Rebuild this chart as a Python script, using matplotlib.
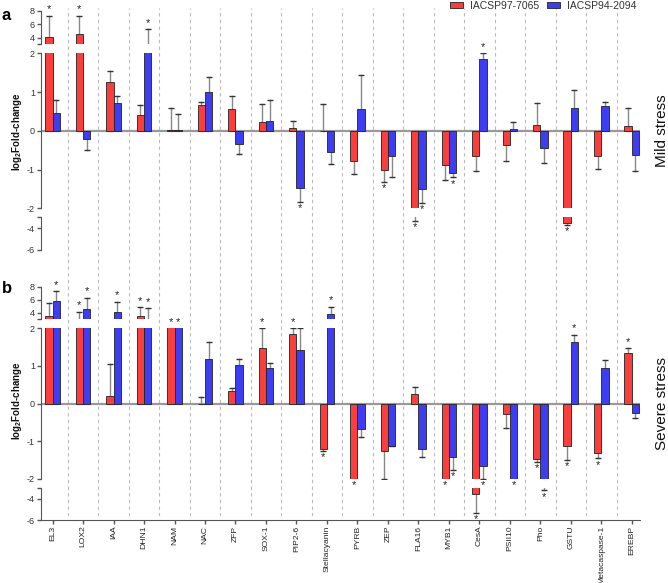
import numpy as np
import matplotlib
matplotlib.use('Agg')
import matplotlib.pyplot as plt
from matplotlib.patches import Patch

plt.rcParams['font.family'] = ['Liberation Sans', 'DejaVu Sans']
plt.rcParams['mathtext.default'] = 'regular'

genes = ['EL3', 'LOX2', 'IAA', 'DHN1', 'NAM', 'NAC', 'ZFP', 'SOX-1', 'PIP2-6',
         'Stellacyanin', 'PYRB', 'ZEP', 'FLA16', 'MYB1', 'CesA', 'PSII10', 'Pho',
         'GSTU', 'Metacaspase-1', 'EREBP']
cultivars = ['IACSP97-7065', 'IACSP94-2094']

# mild stress (panel a), log2 fold-change and error
mild_r = [4.15, 4.6, 1.25, 0.42, 0.01, 0.66, 0.56, 0.24, 0.06, 0.0,
          -0.79, -1.02, -2.6, -0.89, -0.64, -0.36, 0.15, -3.5, -0.65, 0.12]
mild_r_err = [3.15, 2.7, 0.3, 0.24, 0.57, 0.08, 0.35, 0.45, 0.2, 0.68,
              0.33, 0.29, 0.7, 0.37, 0.39, 0.42, 0.56, 0.2, 0.34, 0.46]
mild_b = [0.45, -0.21, 0.71, 2.5, 0.02, 0.99, -0.33, 0.25, -1.47, -0.55,
          0.57, -0.64, -1.49, -1.09, 1.86, 0.05, -0.45, 0.58, 0.63, -0.63]
mild_b_err = [0.34, 0.29, 0.2, 2.75, 0.42, 0.39, 0.26, 0.55, 0.37, 0.31,
              0.87, 0.55, 0.37, 0.11, 0.14, 0.19, 0.37, 0.48, 0.11, 0.4]
mild_r_sig = ['EL3', 'LOX2', 'ZEP', 'FLA16', 'GSTU']
mild_b_sig = ['DHN1', 'PIP2-6', 'FLA16', 'MYB1', 'CesA']

# severe stress (panel b)
sev_r = [3.49, 2.6, 0.21, 3.4, 2.5, 0.0, 0.34, 1.47, 1.83, -1.2,
         -2.0, -1.26, 0.24, -2.0, -3.5, -0.29, -1.47, -1.13, -1.31, 1.35]
sev_r_err = [2.0, 1.5, 0.83, 1.4, 0.1, 0.17, 0.07, 0.53, 0.17, 0.05,
             0.0, 0.74, 0.21, 0.0, 1.85, 0.37, 0.07, 0.37, 0.14, 0.12]
sev_b = [5.85, 4.5, 4.05, 2.6, 2.5, 1.18, 1.02, 0.93, 1.42, 3.75,
         -0.67, -1.12, -1.21, -1.42, -1.66, -2.0, -2.6, 1.63, 0.94, -0.24]
sev_b_err = [1.45, 1.8, 1.65, 2.1, 0.1, 0.45, 0.16, 0.14, 0.58, 1.15,
             0.22, 0.01, 0.2, 0.34, 0.34, 0.0, 0.6, 0.19, 0.2, 0.14]
sev_r_sig = ['LOX2', 'DHN1', 'NAM', 'SOX-1', 'PIP2-6', 'Stellacyanin', 'PYRB',
             'MYB1', 'CesA', 'Pho', 'GSTU', 'Metacaspase-1', 'EREBP']
sev_b_sig = ['EL3', 'LOX2', 'IAA', 'DHN1', 'NAM', 'Stellacyanin', 'MYB1',
             'CesA', 'PSII10', 'Pho', 'GSTU']

red = '#fa3e3e'
blue = '#3d3df2'
spine_col = '#555555'

W, H = 668, 583
fig = plt.figure(figsize=(W / 100, H / 100), dpi=100)

x = np.arange(len(genes))
bw = 0.24
xlim = (-0.37, 19.27)
left = 41.3 / W
width = (640 - 41.3) / W


def fax(top_px, bot_px, **kw):
	return fig.add_axes([left, 1 - bot_px / H, width, (bot_px - top_px) / H], **kw)


# dashed separators across both panels
bg = fax(8, 516)
bg.set_xlim(xlim)
bg.set_ylim(0, 1)
bg.axis('off')
for b in x[:-1] + 0.5:
	bg.axvline(b, color='#bbbbbb', lw=0.8, ls=(0, (3, 3)))


def pick_axis(axes, y):
	top, mid, bot = axes
	if y >= 3:
		return top, y
	if y <= -3:
		return bot, y
	return mid, max(-2, min(2, y))


def draw_panel(px, vals_r, err_r, vals_b, err_b, sig_r, sig_b, last):
	# px: (top, mid, bottom) pixel spans
	lims = [(3, 8), (-2, 2), (-6, -3)]
	axes = []
	for (t, b), lim in zip(px, lims):
		ax = fax(t, b)
		ax.patch.set_alpha(0)
		ax.set_xlim(xlim)
		ax.set_ylim(lim)
		for s in ['top', 'right', 'bottom']:
			ax.spines[s].set_visible(False)
		ax.spines['left'].set_color(spine_col)
		ax.tick_params(axis='y', colors=spine_col, labelcolor='#333333',
					   labelsize=6.5, length=3, width=1, pad=1.5)
		ax.tick_params(axis='x', bottom=False, labelbottom=False)
		axes.append(ax)
	top, mid, bot = axes
	top.set_yticks([3, 4, 6, 8], ['', '4', '6', '8'])
	mid.set_yticks([-2, -1, 0, 1, 2], ['-2', '-1', '0', '1', '2'])
	bot.set_yticks([-6, -4, -3], ['-6', '-4', ''])
	mid.axhline(0, color='#999999', lw=1.6, zorder=1)

	for vals, errs, sig, off, col in [(vals_r, err_r, sig_r, -bw / 2, red),
									  (vals_b, err_b, sig_b, bw / 2, blue)]:
		for ax in axes:
			ax.bar(x + off, vals, bw, color=col, edgecolor='#222222', lw=0.6, zorder=2)
			for xi, v, e in zip(x + off, vals, errs):
				if e <= 0:
					continue
				end = v + e if v >= 0 else v - e
				ax.plot([xi, xi], [v, end], color='#888888', lw=1, zorder=1.5)
				ax.plot([xi], [end], marker='_', ms=4, mew=1, color='#333333', zorder=1.6)
		for g in sig:
			i = genes.index(g)
			v, e = vals[i], errs[i]
			end = v + e if v >= 0 else v - e
			ax, yy = pick_axis(axes, end)
			up = v >= 0
			ax.annotate('*', (x[i] + off, yy), xytext=(0, 1 if up else -1),
						textcoords='offset points', ha='center',
						va='bottom' if up else 'top', fontsize=8, color='#222222',
						annotation_clip=False, zorder=5)
	if last:
		bot.spines['bottom'].set_visible(True)
		bot.spines['bottom'].set_color(spine_col)
		bot.tick_params(axis='x', bottom=True, labelbottom=True, colors=spine_col,
						labelcolor='#222222', length=3, width=1, labelsize=6.1, pad=1)
		bot.set_xticks(x, genes, rotation=90)
	return axes


draw_panel([(11, 44.3), (53.3, 208.3), (217.4, 250)],
		   mild_r, mild_r_err, mild_b, mild_b_err, mild_r_sig, mild_b_sig, False)
draw_panel([(286.7, 319), (328, 479), (488.3, 520)],
		   sev_r, sev_r_err, sev_b, sev_b_err, sev_r_sig, sev_b_sig, True)

# labels
ylab = r'log$_{2}$Fold-change'
fig.text(17.5 / W, 1 - 132 / H, ylab, rotation=90, ha='center', va='center',
		 fontsize=7, fontweight='bold', color='#111111')
fig.text(17.5 / W, 1 - 401 / H, ylab, rotation=90, ha='center', va='center',
		 fontsize=7, fontweight='bold', color='#111111')
fig.text(662 / W, 1 - 131 / H, 'Mild stress', rotation=90, ha='center', va='center',
		 fontsize=11, color='#111111')
fig.text(662 / W, 1 - 404 / H, 'Severe stress', rotation=90, ha='center', va='center',
		 fontsize=11, color='#111111')
fig.text(1.5 / W, 1 - 19.5 / H, 'a', fontsize=12, fontweight='bold', va='baseline')
fig.text(1.5 / W, 1 - 293 / H, 'b', fontsize=12, fontweight='bold', va='baseline')

handles = [Patch(facecolor=red, edgecolor='#222222', lw=0.6),
		   Patch(facecolor=blue, edgecolor='#222222', lw=0.6)]
fig.legend(handles, cultivars, loc='upper left', bbox_to_anchor=(450 / W, 1 - 1 / H),
		   ncol=2, frameon=False, fontsize=7.5, borderpad=0, borderaxespad=0,
		   handlelength=1.25, handleheight=0.55, handletextpad=0.65, columnspacing=0.75,
		   labelcolor='#333333')

fig.savefig('out.png', dpi=100)
